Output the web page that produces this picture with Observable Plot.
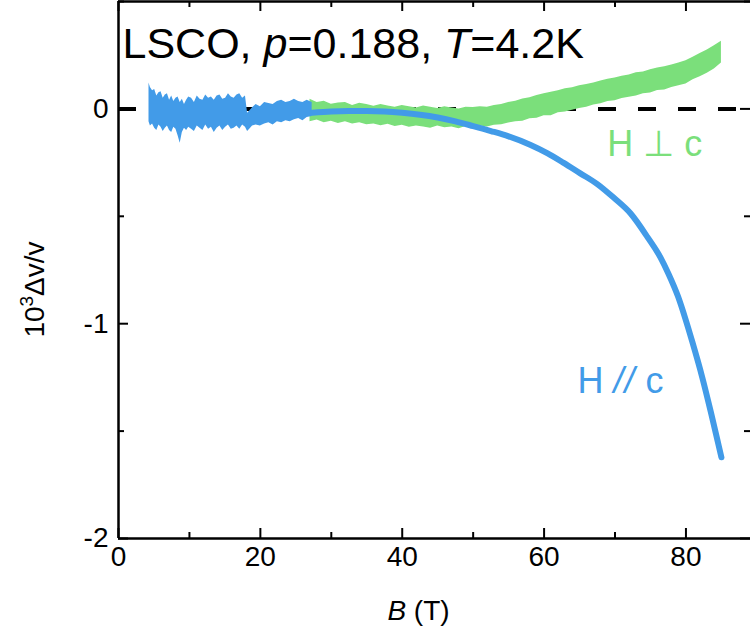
<!DOCTYPE html>
<html><head><meta charset="utf-8">
<script src="https://cdn.jsdelivr.net/npm/d3@7"></script>
<script src="https://cdn.jsdelivr.net/npm/@observablehq/plot@0.6"></script>
<style>
html,body{margin:0;padding:0;background:#fff;overflow:hidden}
svg{display:block}
</style></head><body><div id="chart"></div>
<script>
// axis domains and ticks
const xDomain = [0, 89.1];
const yDomain = [-2, 0.5];
const xMajor = [0, 20, 40, 60, 80];
const xMinor = [10, 30, 50, 70];
const yMajor = [-2, -1, 0];
const yMinor = [-1.5, -0.5, 0.5];
const zeroLine = [0];

// H // c : noisy low-field part (envelope) and smooth high-field part
const blueNoiseB  = [4.3, 4.5, 4.8, 5.1, 5.4, 5.7, 6.0, 6.3, 6.6, 6.9, 7.2, 7.5, 7.8, 8.1, 8.4, 8.7, 9.0, 9.3, 9.6, 9.9, 10.3, 10.7, 11.1, 11.5, 11.9, 12.3, 12.7, 13.1, 13.5, 13.9, 14.3, 14.7, 15.1, 15.5, 15.9, 16.3, 16.7, 17.1, 17.5, 17.9, 18.2, 18.5, 18.9, 19.4, 20.0, 20.6, 21.2, 21.8, 22.4, 23.0, 23.6, 24.2, 24.8, 25.4, 26.0, 26.6, 27.3];
const blueNoiseHi = [0.12, 0.10, 0.085, 0.09, 0.06, 0.075, 0.08, 0.05, 0.065, 0.07, 0.04, 0.06, 0.035, 0.05, 0.055, 0.03, 0.045, 0.02, 0.04, 0.055, 0.05, 0.03, 0.06, 0.045, 0.04, 0.065, 0.05, 0.055, 0.04, 0.06, 0.065, 0.045, 0.05, 0.07, 0.055, 0.05, 0.065, 0.07, 0.05, 0.06, -0.02, -0.01, 0.005, 0.02, 0.01, 0.03, 0.025, 0.02, 0.035, 0.04, 0.03, 0.035, 0.045, 0.035, 0.03, 0.04, 0.03];
const blueNoiseLo = [-0.06, -0.08, -0.07, -0.09, -0.1, -0.075, -0.085, -0.105, -0.09, -0.08, -0.1, -0.11, -0.085, -0.095, -0.125, -0.16, -0.11, -0.09, -0.1, -0.085, -0.095, -0.105, -0.08, -0.09, -0.1, -0.075, -0.095, -0.085, -0.11, -0.09, -0.08, -0.1, -0.085, -0.075, -0.095, -0.09, -0.08, -0.095, -0.075, -0.085, -0.105, -0.095, -0.08, -0.075, -0.08, -0.07, -0.065, -0.075, -0.06, -0.065, -0.055, -0.06, -0.05, -0.045, -0.055, -0.04, -0.035];
const blueB = [27.3, 30, 32.5, 35, 37.5, 40, 42.5, 45, 47.5, 50, 52.5, 55, 58.1, 60.5, 62.7, 65.1, 67.5, 69.8, 72.2, 74.6, 76.4, 77.5, 78.9, 79.9, 80.9, 82.3, 83.5, 84.6, 85.0];
const blueV = [-0.018, -0.012, -0.010, -0.010, -0.012, -0.018, -0.027, -0.040, -0.058, -0.080, -0.103, -0.128, -0.168, -0.207, -0.250, -0.300, -0.350, -0.413, -0.487, -0.598, -0.691, -0.765, -0.875, -0.975, -1.085, -1.25, -1.41, -1.565, -1.622];

// H ⊥ c : noisy band (envelope)
const greenB  = [27, 28, 29, 30, 31, 32, 33, 34, 35, 36, 37, 38, 39, 40, 41, 42, 43, 44, 45, 46, 47, 48, 49, 50, 51, 52, 53, 54, 55, 56, 57, 58, 59, 60, 61, 62, 63, 64, 65, 66, 67, 68, 69, 70, 71, 72, 73, 74, 75, 76, 77, 78, 79, 80, 81, 82, 83, 84, 85];
const greenHi = [0.045, 0.03, 0.036, 0.022, 0.028, 0.03, 0.016, 0.026, 0.02, 0.012, 0.02, 0.014, 0.008, 0.016, 0.01, 0.004, 0.014, 0.008, 0.002, 0.01, 0.004, 0.0, 0.008, 0.006, 0.01, 0.008, 0.016, 0.02, 0.03, 0.036, 0.046, 0.052, 0.062, 0.07, 0.078, 0.084, 0.094, 0.098, 0.108, 0.114, 0.12, 0.13, 0.138, 0.144, 0.152, 0.158, 0.168, 0.172, 0.182, 0.19, 0.196, 0.204, 0.214, 0.224, 0.24, 0.258, 0.274, 0.294, 0.315];
const greenLo = [-0.06, -0.052, -0.064, -0.058, -0.068, -0.06, -0.07, -0.064, -0.074, -0.07, -0.078, -0.072, -0.082, -0.076, -0.086, -0.08, -0.084, -0.09, -0.08, -0.088, -0.084, -0.092, -0.082, -0.088, -0.08, -0.084, -0.076, -0.074, -0.066, -0.06, -0.058, -0.046, -0.044, -0.032, -0.032, -0.018, -0.014, -0.006, 0.002, 0.008, 0.018, 0.024, 0.034, 0.038, 0.048, 0.054, 0.06, 0.07, 0.074, 0.086, 0.088, 0.1, 0.108, 0.116, 0.136, 0.15, 0.166, 0.186, 0.214];

// annotations
const labelText = ["H \u22a5 c", "H // c"];
const labelB = [68.9, 64.7];
const labelV = [-0.165, -1.271];
const titleText = "LSCO, p=0.188, T=4.2K";
const xLabelText = "B (T)";
const yLabelText = "10\u00b3\u0394v/v";

const BLUE = "#429BE8";
const GREEN = "#7BDF7B";
const FONT = "'Liberation Sans', Arial, Helvetica, sans-serif";

const W = 750, H = 639, mL = 118, mR = 0, mT = 1, mB = 101;
const pw = W - mL - mR, ph = H - mT - mB;

const blueNoise = blueNoiseB.map((b, i) => ({b, hi: blueNoiseHi[i], lo: blueNoiseLo[i]}));
const blueLine = blueB.map((b, i) => ({b, v: blueV[i]}));
const green = greenB.map((b, i) => ({b, hi: greenHi[i], lo: greenLo[i]}));
const labels = labelText.map((t, i) => ({t, b: labelB[i], v: labelV[i], c: i === 0 ? GREEN : BLUE}));

const chart = Plot.plot({
  width: W, height: H,
  marginLeft: mL, marginRight: mR, marginTop: mT, marginBottom: mB,
  style: {fontFamily: FONT, background: "#fff", color: "#000"},
  x: {domain: xDomain},
  y: {domain: yDomain},
  marks: [
    Plot.ruleY(zeroLine, {stroke: "#000", strokeWidth: 4, strokeDasharray: "18,22"}),
    Plot.areaY(green, {x: "b", y1: "lo", y2: "hi", fill: GREEN}),
    Plot.areaY(blueNoise, {x: "b", y1: "lo", y2: "hi", fill: BLUE}),
    Plot.line(blueLine, {x: "b", y: "v", stroke: BLUE, strokeWidth: 6, curve: "monotone-x", strokeLinecap: "round"}),
    // frame
    Plot.ruleX([xDomain[0]], {stroke: "#000", strokeWidth: 2.5}),
    Plot.ruleY([yDomain[0]], {stroke: "#000", strokeWidth: 2.5}),
    Plot.ruleY([yDomain[1]], {stroke: "#000", strokeWidth: 2.5}),
    // inward ticks
    Plot.tickX(xMajor, {x: d => d, insetTop: ph - 10, strokeWidth: 2}),
    Plot.tickX(xMinor, {x: d => d, insetTop: ph - 6, strokeWidth: 2}),
    Plot.tickX(xMajor, {x: d => d, insetBottom: ph - 10, strokeWidth: 2}),
    Plot.tickX(xMinor, {x: d => d, insetBottom: ph - 6, strokeWidth: 2}),
    Plot.tickY(yMajor, {y: d => d, insetRight: pw - 10, strokeWidth: 2}),
    Plot.tickY(yMinor, {y: d => d, insetRight: pw - 6, strokeWidth: 2}),
    Plot.tickY(yMajor, {y: d => d, insetLeft: pw - 10, strokeWidth: 2}),
    Plot.tickY(yMinor, {y: d => d, insetLeft: pw - 6, strokeWidth: 2}),
    // tick labels
    Plot.axisX(xMajor, {anchor: "bottom", tickSize: 0, tickPadding: 8, fontSize: 28, label: null, tickFormat: d => String(d)}),
    Plot.axisY(yMajor, {anchor: "left", tickSize: 0, tickPadding: 10, fontSize: 28, label: null, tickFormat: d => String(d)}),
    // series labels
    Plot.text(labels, {x: "b", y: "v", text: "t", fill: "c", fontSize: 36, textAnchor: "start", lineAnchor: "middle"}),
    // title and axis labels
    Plot.text([titleText], {frameAnchor: "top-left", dx: 4, dy: 26, fontSize: 43, textAnchor: "start", lineAnchor: "top"}),
    Plot.text([xLabelText], {frameAnchor: "bottom", dx: -16, dy: 73, fontSize: 28, lineAnchor: "middle"}),
    Plot.text([yLabelText], {frameAnchor: "left", rotate: -90, fontSize: 28, lineAnchor: "middle"})
  ]
});

// rich text (italics / superscript) as tspans
function rich(txt, parts) {
  return d3.select(chart).selectAll("text").filter(function() { return this.textContent === txt; }).each(function() {
    const el = d3.select(this);
    el.text(null);
    for (const p of parts) {
      const ts = el.append("tspan").text(p.t);
      if (p.i) ts.attr("font-style", "italic");
      if (p.size) ts.attr("font-size", p.size);
      if (p.dy) ts.attr("dy", p.dy);
      if (p.ls) ts.attr("letter-spacing", p.ls);
    }
  });
}
rich(titleText, [{t: "LSCO, "}, {t: "p", i: true}, {t: "=0.188, "}, {t: "T", i: true}, {t: "=4.2K"}]);
rich(xLabelText, [{t: "B", i: true}, {t: " (T)"}]);
rich(yLabelText, [{t: "10"}, {t: "3", size: 19, dy: -11}, {t: "\u0394v/v", dy: 11}])
  .attr("transform", "translate(34,289) rotate(-90)")
  .attr("text-anchor", "middle")
  .attr("x", null).attr("y", null).attr("dx", null).attr("dy", "0.35em");
rich("H // c", [{t: "H "}, {t: "//", size: 36, i: true, ls: 1}, {t: " c"}]);

document.getElementById("chart").appendChild(chart);
</script>
</body></html>
